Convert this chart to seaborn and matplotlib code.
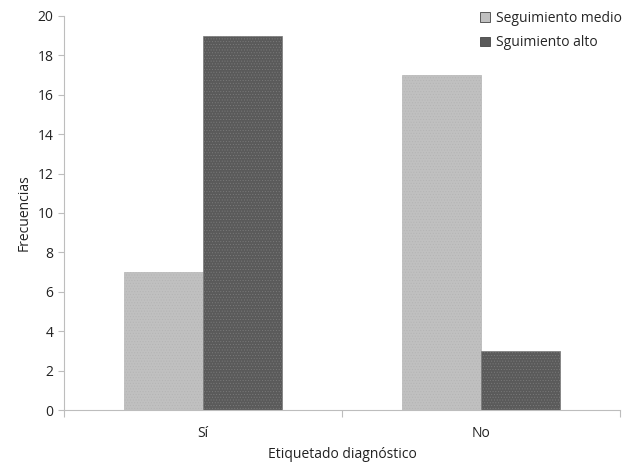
import matplotlib
matplotlib.use("Agg")
import matplotlib.pyplot as plt
import seaborn as sns
import pandas as pd

categories = ["Sí", "No"]
series_names = ["Seguimiento medio", "Sguimiento alto"]
medio = [7, 17]
alto = [19, 3]
yticks = [0, 2, 4, 6, 8, 10, 12, 14, 16, 18, 20]

df = pd.DataFrame({
    "cat": categories * 2,
    "serie": [series_names[0]] * 2 + [series_names[1]] * 2,
    "val": medio + alto,
})

sns.set_style("white")
plt.rcParams["font.family"] = ["Open Sans", "DejaVu Sans"]
plt.rcParams["hatch.linewidth"] = 0.4

fig = plt.figure(figsize=(6.36, 4.62), dpi=100)
ax = fig.add_axes([64/636, 1-410/462, (620-64)/636, (410-16)/462])

sns.barplot(data=df, x="cat", y="val", hue="serie", order=categories,
            hue_order=series_names, palette=["#c0c0c0", "#5a5a5a"],
            width=0.57, ax=ax, edgecolor="#555555", linewidth=0.6,
            legend=True)

hatch_cols = ["#b4b4b4", "#7a7a7a"]
for i, cont in enumerate(ax.containers):
    for p in cont:
        p.set_hatch("......")
        p.set_edgecolor(hatch_cols[i])
        p.set_linewidth(0.5)

ax.set_xlim(-0.5, 1.5)
ax.set_ylim(0, 20)
ax.set_yticks(yticks)
ax.set_yticklabels([str(t) for t in yticks])
ax.set_xticks([-0.5, 0.5, 1.5], minor=False)
ax.set_xticklabels([])
ax.set_xticks([0, 1], minor=True)
ax.set_xticklabels(categories, minor=True)
ax.tick_params(axis="x", which="major", length=5, color="#bdbdbd", direction="out", bottom=True)
ax.tick_params(axis="x", which="minor", length=0, labelsize=10, colors="#222222", pad=11.5)
ax.tick_params(axis="y", length=4, color="#bdbdbd", direction="out", left=True, labelsize=10, labelcolor="#222222")

for s in ["top", "right"]:
    ax.spines[s].set_visible(False)
for s in ["left", "bottom"]:
    ax.spines[s].set_color("#bdbdbd")
    ax.spines[s].set_linewidth(0.8)

ax.set_xlabel("Etiquetado diagnóstico", fontsize=10, color="#222222", labelpad=4)
ax.set_ylabel("Frecuencias", fontsize=10, color="#222222", labelpad=4)

leg = ax.legend(loc="upper right", bbox_to_anchor=(1.025, 1.045), frameon=False,
                fontsize=10, handlelength=0.7, handleheight=0.7,
                handletextpad=0.4, labelspacing=0.7)
for h, c in zip(leg.legend_handles, ["#c0c0c0", "#5a5a5a"]):
    h.set_facecolor(c)
    h.set_edgecolor("#444444")
    h.set_linewidth(0.6)

fig.savefig("out.png", dpi=100)
